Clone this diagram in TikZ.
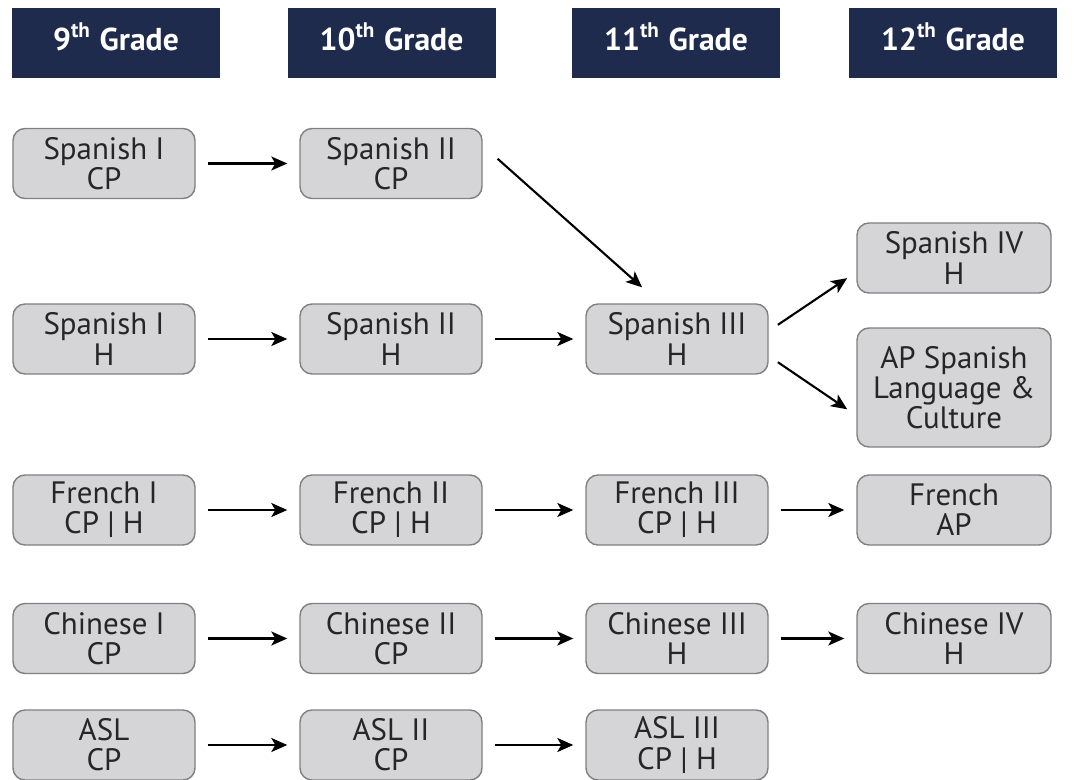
\documentclass[tikz,border=0pt]{standalone}
\usepackage{fontspec}
\setmainfont{PT Sans}
\usetikzlibrary{arrows.meta}
\definecolor{gradeblue}{HTML}{1F2B4C}
\definecolor{boxgray}{HTML}{D5D5D7}
\definecolor{boxline}{HTML}{808080}
\begin{document}
\begin{tikzpicture}[
    grade/.style={rectangle, fill=gradeblue, text=white, minimum width=2.08cm, minimum height=0.70cm, inner sep=0pt, text height=1.4ex, text depth=0.5ex, font=\fontsize{9}{9}\selectfont\bfseries},
    course/.style={rectangle, rounded corners=0.12cm, draw=boxline, line width=0.4pt, fill=boxgray, text=black!85, minimum width=1.82cm, minimum height=0.70cm, inner sep=0pt, align=center, font=\fontsize{8.8}{8.6}\selectfont},
    wide/.style={course, minimum width=1.94cm},
    arr/.style={-{Stealth[length=0.16cm,width=0.14cm,inset=0.04cm]}, line width=0.6pt, shorten <=0.12cm, shorten >=0.12cm}]
    \clip (0,0) rectangle (10.92,-7.80);

    \node[grade] (g9) at (1.16,-0.43) {9\textsuperscript{th} Grade};
    \node[grade] (g10) at (3.915,-0.43) {10\textsuperscript{th} Grade};
    \node[grade] (g11) at (6.76,-0.43) {11\textsuperscript{th} Grade};
    \node[grade] (g12) at (9.53,-0.43) {12\textsuperscript{th} Grade};

    \node[course] (s1cp) at (1.04,-1.635) {Spanish I\\CP};
    \node[course] (s2cp) at (3.91,-1.635) {Spanish II\\CP};

    \node[course] (s1h) at (1.04,-3.39) {Spanish I\\H};
    \node[course] (s2h) at (3.91,-3.39) {Spanish II\\H};
    \node[course] (s3h) at (6.77,-3.39) {Spanish III\\H};
    \node[wide] (s4h) at (9.54,-2.58) {Spanish IV\\H};
    \node[wide, minimum height=1.19cm] (apsp) at (9.54,-3.875) {AP Spanish\\Language \&\\Culture};

    \node[course] (f1) at (1.04,-5.10) {French I\\CP | H};
    \node[course] (f2) at (3.91,-5.10) {French II\\CP | H};
    \node[course] (f3) at (6.77,-5.10) {French III\\CP | H};
    \node[wide] (fap) at (9.54,-5.10) {French\\AP};

    \node[course] (c1) at (1.04,-6.385) {Chinese I\\CP};
    \node[course] (c2) at (3.91,-6.385) {Chinese II\\CP};
    \node[course] (c3) at (6.77,-6.385) {Chinese III\\H};
    \node[wide] (c4) at (9.54,-6.385) {Chinese IV\\H};

    \node[course] (a1) at (1.04,-7.45) {ASL\\CP};
    \node[course] (a2) at (3.91,-7.45) {ASL II\\CP};
    \node[course] (a3) at (6.77,-7.45) {ASL III\\CP | H};

    \draw[arr] (s1cp) -- (s2cp);
    \draw[arr, shorten <=0.20cm, shorten >=0.24cm] ([yshift=0.18cm]s2cp.east) -- ([xshift=-0.17cm]s3h.north);
    \draw[arr] (s1h) -- (s2h);
    \draw[arr] (s2h) -- (s3h);
    \draw[arr, shorten <=0.11cm, shorten >=0.11cm] ([yshift=0.08cm]s3h.east) -- ([yshift=-0.14cm]s4h.west);
    \draw[arr, shorten <=0.11cm, shorten >=0.11cm] ([yshift=-0.17cm]s3h.east) -- ([yshift=-0.28cm]apsp.west);
    \draw[arr] (f1) -- (f2);
    \draw[arr] (f2) -- (f3);
    \draw[arr] (f3) -- (fap);
    \draw[arr] (c1) -- (c2);
    \draw[arr] (c2) -- (c3);
    \draw[arr] (c3) -- (c4);
    \draw[arr] (a1) -- (a2);
    \draw[arr] (a2) -- (a3);
\end{tikzpicture}
\end{document}
